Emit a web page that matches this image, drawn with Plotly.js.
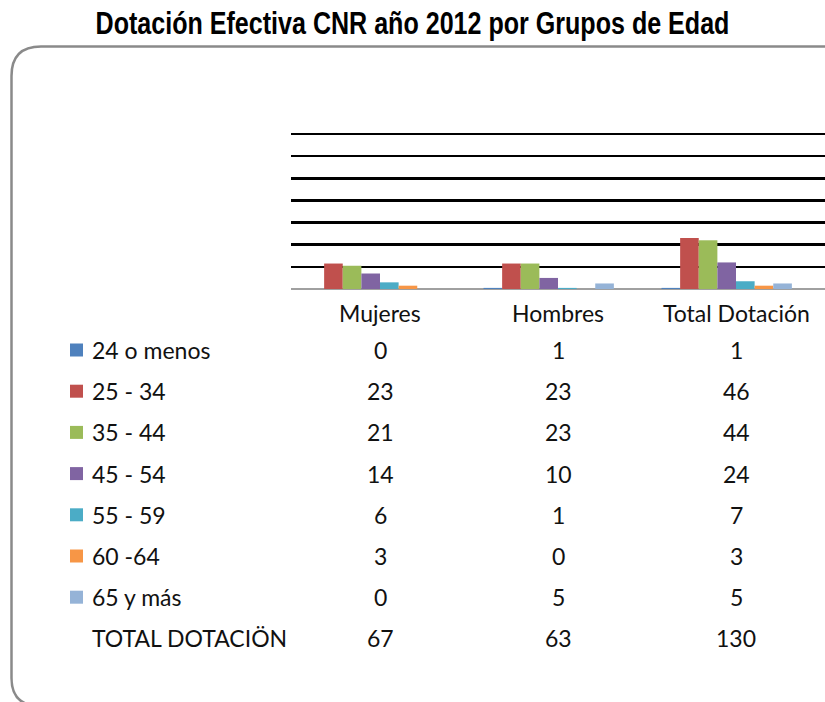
<!DOCTYPE html>
<html>
<head>
<meta charset="utf-8">
<script src="https://cdn.plot.ly/plotly-3.0.1.min.js"></script>
<style>html,body{margin:0;padding:0;background:#fff;}#chart{width:825px;height:702px;}</style>
</head>
<body>
<div id="chart"></div>
<script>
const categories = ['Mujeres', 'Hombres', 'Total Dotación'];
const seriesNames = ['24 o menos', '25 - 34', '35 - 44', '45 - 54', '55 - 59', '60 -64', '65 y más'];
const s24oMenos = [0, 1, 1];
const s25a34 = [23, 23, 46];
const s35a44 = [21, 23, 44];
const s45a54 = [14, 10, 24];
const s55a59 = [6, 1, 7];
const s60a64 = [3, 0, 3];
const s65yMas = [0, 5, 5];
const totalName = 'TOTAL DOTACIÖN';
const totalDotacion = [67, 63, 130];
const seriesValues = [s24oMenos, s25a34, s35a44, s45a54, s55a59, s60a64, s65yMas];
const colors = ['#4F81BD', '#C0504D', '#9BBB59', '#8064A2', '#4BACC6', '#F79646', '#95B3D7'];

const W = 825, H = 702;
const px = x => x / W;
const py = y => 1 - y / H;
const FONT = 'Lato, "Open Sans", sans-serif';
const FS = 23;

const traces = seriesValues.map((vals, i) => ({
  type: 'bar', name: seriesNames[i], x: categories, y: vals,
  marker: {color: colors[i], line: {width: 0}}, hoverinfo: 'skip'
}));
traces.push({type: 'bar', name: totalName, x: categories, y: totalDotacion,
  marker: {color: 'rgba(0,0,0,0)'}, hoverinfo: 'skip'});

const rowY0 = 350, rowStep = 41.2;
const annotations = [];
const shapes = [];
const rowNames = seriesNames.concat([totalName]);
const rowValues = seriesValues.concat([totalDotacion]);
rowNames.forEach((name, r) => {
  const yc = rowY0 + r * rowStep;
  annotations.push({xref: 'paper', yref: 'paper', x: px(90), y: py(yc), xanchor: 'left', yanchor: 'middle',
    text: name, showarrow: false, font: {family: FONT, size: FS, color: '#111'}});
  rowValues[r].forEach((v, c) => {
    annotations.push({xref: 'x', yref: 'paper', x: categories[c], y: py(yc), xanchor: 'center', yanchor: 'middle',
      text: String(v), showarrow: false, font: {family: FONT, size: FS, color: '#111'}});
  });
  if (r < colors.length) {
    shapes.push({type: 'rect', xref: 'paper', yref: 'paper', x0: px(70), x1: px(83), y0: py(yc - 6.5), y1: py(yc + 6.5),
      fillcolor: colors[r], line: {width: 0}});
  }
});
categories.forEach(c => {
  annotations.push({xref: 'x', yref: 'paper', x: c, y: py(313), xanchor: 'center', yanchor: 'middle',
    text: c, showarrow: false, font: {family: FONT, size: FS, color: '#111'}});
});

// rounded outer frame
const path = `M ${px(40)} ${py(706)} Q ${px(11.5)} ${py(706)} ${px(11.5)} ${py(678)} L ${px(11.5)} ${py(76)} Q ${px(11.5)} ${py(46.5)} ${px(41)} ${py(46.5)} L ${px(840)} ${py(46.5)}`;
shapes.push({type: 'path', xref: 'paper', yref: 'paper', path: path, line: {color: '#8a8a8a', width: 2.5}, layer: 'below'});

const yMax = 141;
const pxPerUnit = (289 - 134) / 140;
const layout = {
  width: W, height: H,
  margin: {l: 0, r: 0, t: 0, b: 0, pad: 0},
  paper_bgcolor: '#fff', plot_bgcolor: 'rgba(0,0,0,0)',
  showlegend: false,
  barmode: 'group', bargap: 0.163, bargroupgap: 0,
  title: {text: '<b>Dotación Efectiva CNR año 2012 por Grupos de Edad</b>', x: 0.5, xanchor: 'center',
    y: py(23), yanchor: 'middle', yref: 'container',
    font: {family: '"Liberation Sans Narrow", "Liberation Sans", Arial, sans-serif', size: 31, color: '#000'}},
  xaxis: {domain: [px(291), 1], type: 'category', range: [-0.5, 2.5], showgrid: false, showline: false,
    showticklabels: false, ticks: '', automargin: false, fixedrange: true},
  yaxis: {domain: [py(289), py(289 - pxPerUnit * yMax)], range: [0, yMax], dtick: 20, showticklabels: false, ticks: '',
    showgrid: true, gridcolor: '#000', gridwidth: 2.5, zeroline: true, zerolinecolor: '#a0a0a0', zerolinewidth: 2.5,
    showline: false, automargin: false, fixedrange: true},
  annotations: annotations,
  shapes: shapes
};
Plotly.newPlot('chart', traces, layout, {staticPlot: true, displayModeBar: false}).then(gd => {
  const t = gd.querySelector('.gtitle');
  if (t) {
    const bb = t.getBBox();
    const target = 634;
    if (bb.width > target + 5) {
      const s = target / bb.width;
      const cx = bb.x + bb.width / 2;
      t.setAttribute('transform', `translate(${cx},0) scale(${s},1) translate(${-cx},0)`);
    }
  }
});
</script>
</body>
</html>
